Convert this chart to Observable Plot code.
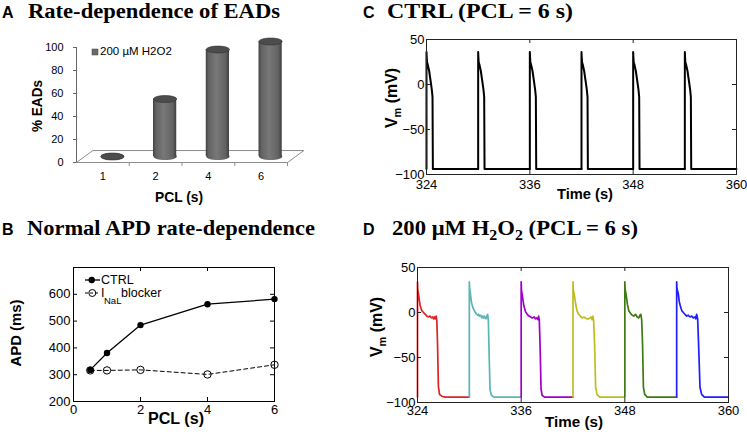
<!DOCTYPE html>
<html><head><meta charset="utf-8">
<script src="https://cdn.jsdelivr.net/npm/d3@7"></script>
<script src="https://cdn.jsdelivr.net/npm/@observablehq/plot@0.6"></script>
<style>
html,body{margin:0;padding:0;background:#fff;}
#fig{position:relative;width:747px;height:434px;overflow:hidden;background:#fff;}
#fig > .p{position:absolute;}
#fig svg{overflow:visible;}
#ov{position:absolute;left:0;top:0;pointer-events:none;}
.ttl{font-family:'Liberation Serif','Times New Roman',serif;font-weight:bold;font-size:20px;}
.let{font-family:'Liberation Sans',Arial,sans-serif;font-weight:bold;font-size:16px;}
.al{font-family:'Liberation Sans',Arial,sans-serif;font-weight:bold;}
.lg{font-family:'Liberation Sans',Arial,sans-serif;}
</style></head>
<body><div id="fig"></div>
<script>
// ---------- Panel A: % EADs vs PCL (200 uM H2O2) ----------
const eadPCL = ["1", "2", "4", "6"];
const eadPercent = [0, 50, 93, 100];
const eadTicks = [0, 20, 40, 60, 80, 100];

// ---------- Panel B: APD vs PCL ----------
const apdPCL = [0.5, 1, 2, 4, 6];
const apdCTRL = [318, 381, 485, 563, 582];
const apdCTRLerr = [4, 0, 0, 0, 9];
const apdBlocker = [316, 316, 318, 301, 337];
const apdYTicks = [200, 300, 400, 500, 600];
const apdXTicks = [0, 2, 4, 6];

// ---------- Panels C & D: membrane potential traces ----------
const beatOnsets = [324, 330, 336, 342, 348, 354];
const timeTicks = [324, 336, 348, 360];
const vmTicks = [-100, -50, 0, 50];
// CTRL action potential, [time after onset (s), Vm (mV)]
const ctrlAP = [[0,-94],[0,36],[0.03,30],[0.06,25],[0.15,22],[0.31,15],[0.46,5],[0.62,-6],[0.7,-14],[0.74,-94],[6,-94]];
// 200 uM H2O2 action potentials (one per beat)
const h2o2Beat1 = [[0,-94],[0,34],[0.03,26],[0.12,20],[0.3,8],[0.5,2],[0.7,0],[0.9,-2],[1.08,-4],[1.28,-5],[1.47,-4],[1.6,-6],[1.75,-5],[1.86,-7],[1.96,-5],[2.05,-7],[2.16,-4],[2.24,-9],[2.32,-35],[2.42,-82],[2.55,-91],[2.8,-93],[3.2,-94],[6,-94]];
const h2o2Beat2 = [[0,-94],[0,34],[0.03,27],[0.12,21],[0.25,11],[0.39,6],[0.58,2],[0.77,-1],[0.96,-3],[1.08,-2],[1.16,-4],[1.3,-3],[1.45,-6],[1.54,-4],[1.66,-6],[1.74,-4],[1.85,-6],[1.93,-7],[2.03,-4],[2.12,-2],[2.2,-9],[2.3,-50],[2.4,-86],[2.55,-92],[2.85,-94],[6,-94]];
const h2o2Beat3 = [[0,-94],[0,34],[0.03,25],[0.12,20],[0.3,8],[0.5,1],[0.7,-2],[0.9,-4],[1.1,-5],[1.3,-6],[1.5,-5],[1.65,-7],[1.8,-6],[1.92,-8],[2.02,-4],[2.1,-9],[2.2,-40],[2.3,-85],[2.42,-92],[2.7,-94],[6,-94]];
const h2o2Beat4 = [[0,-94],[0,34],[0.03,25],[0.15,20],[0.3,10],[0.46,2],[0.66,-2],[0.85,-4],[1.04,-6],[1.25,-5],[1.43,-6],[1.6,-7],[1.81,-7],[1.95,-6],[2.08,-5],[2.2,-8],[2.31,-4],[2.39,-9],[2.5,-35],[2.62,-83],[2.78,-91],[3.1,-94],[6,-94]];
const h2o2Beat5 = [[0,-94],[0,34],[0.03,26],[0.15,20],[0.3,9],[0.46,2],[0.66,-1],[0.85,-3],[1.04,-4],[1.23,-2],[1.43,-5],[1.62,-6],[1.75,-3],[1.85,-2],[1.95,-8],[2.05,-35],[2.15,-83],[2.3,-91],[2.6,-94],[6,-94]];
const h2o2Beat6 = [[0,-94],[0,34],[0.03,27],[0.19,21],[0.3,12],[0.46,6],[0.6,2],[0.77,0],[0.96,-2],[1.16,-4],[1.35,-3],[1.54,-5],[1.74,-4],[1.93,-6],[2.12,-5],[2.22,-7],[2.31,-2],[2.43,-7],[2.55,-39],[2.7,-83],[2.89,-91],[3.2,-94],[6,-94]];
const h2o2Beats = [h2o2Beat1, h2o2Beat2, h2o2Beat3, h2o2Beat4, h2o2Beat5, h2o2Beat6];
const h2o2Colors = ["#dc2424", "#5ab5b5", "#a000c8", "#bdbd20", "#3d7a12", "#1e1eff"];

// ---------- helpers ----------
const fig = document.getElementById("fig");
function place(node, left, top, w, h) {
  const d = document.createElement("div");
  d.className = "p";
  d.style.cssText = `left:${left}px;top:${top}px;width:${w}px;height:${h}px;`;
  d.appendChild(node);
  fig.appendChild(d);
}
const baseStyle = (fs) => ({fontFamily: "'Liberation Sans', Arial, sans-serif", fontSize: fs, color: "#000", background: "transparent", overflow: "visible"});
function boxTicks(xt, yt, iw, ih, len = 4, stroke = "#000") {
  return [
    Plot.tickY(yt, {y: d => d, insetRight: iw - len, stroke}),
    Plot.tickY(yt, {y: d => d, insetLeft: iw - len, stroke}),
    Plot.tickX(xt, {x: d => d, insetTop: ih - len, stroke}),
    Plot.tickX(xt, {x: d => d, insetBottom: ih - len, stroke})
  ];
}
const ellipseSymbol = {
  draw(ctx, size) {
    const rx = Math.sqrt(size / Math.PI), ry = rx * 0.3, k = 0.5523;
    ctx.moveTo(rx, 0);
    ctx.bezierCurveTo(rx, ry * k, rx * k, ry, 0, ry);
    ctx.bezierCurveTo(-rx * k, ry, -rx, ry * k, -rx, 0);
    ctx.bezierCurveTo(-rx, -ry * k, -rx * k, -ry, 0, -ry);
    ctx.bezierCurveTo(rx * k, -ry, rx, -ry * k, rx, 0);
    ctx.closePath();
  }
};
const cylDefs = () => {
  const g = document.createElementNS("http://www.w3.org/2000/svg", "defs");
  g.innerHTML = `<linearGradient id="cylGrad" x1="0" x2="1" y1="0" y2="0">
    <stop offset="0" stop-color="#404040"/><stop offset="0.12" stop-color="#626262"/>
    <stop offset="0.45" stop-color="#787878"/><stop offset="0.85" stop-color="#626262"/>
    <stop offset="1" stop-color="#3e3e3e"/></linearGradient>`;
  return g;
};
const intFmt = d => String(d);

// ---------- Panel A ----------
const aData = eadPCL.map((c, i) => ({cat: c, pos: i + 0.5, pct: eadPercent[i]}));
const nCat = eadPCL.length;
const depthX = 0.31, depthY = 10.4; // 3-D floor depth
const floorPts = [[0, 0], [nCat, 0], [nCat + depthX, depthY], [depthX, depthY], [0, 0]];
const barShift = {dx: 9.5, dy: -6};
const plotA = Plot.plot({
  width: 320, height: 150, marginLeft: 76, marginRight: 33, marginTop: 17, marginBottom: 18,
  x: {domain: [0, nCat], label: null}, y: {domain: [0, 100], label: null},
  style: baseStyle("11px"),
  marks: [
    cylDefs,
    Plot.line(floorPts, {x: d => d[0], y: d => d[1], stroke: "#8c8c8c", strokeWidth: 1}),
    Plot.ruleX([0], {y1: 0, y2: 100, stroke: "#666"}),
    Plot.axisY({ticks: eadTicks, tickFormat: intFmt, tickSize: 3, tickPadding: 10, stroke: "#666", label: null}),
    Plot.axisX({ticks: aData.map(d => d.pos), tickFormat: d => eadPCL[Math.floor(d)], tickSize: 0, tickPadding: 10, label: null}),
    Plot.axisX({ticks: d3.range(1, nCat + 1), tickFormat: () => "", tickSize: 4, stroke: "#8c8c8c", label: null}),
    Plot.dot(aData, {x: "pos", y: () => 0, ...barShift, r: 11.6, symbol: ellipseSymbol, fill: "url(#cylGrad)"}),
    Plot.rect(aData, {x1: d => d.pos - 0.22, x2: d => d.pos + 0.22, y1: () => 0, y2: "pct", ...barShift, fill: "url(#cylGrad)"}),
    Plot.dot(aData, {x: "pos", y: "pct", ...barShift, r: 11.6, symbol: ellipseSymbol, fill: "#4c4c4c", stroke: "#333", strokeWidth: 0.6})
  ]
});
place(plotA, 0, 30, 320, 150);

// ---------- Panel B ----------
const bCtrl = apdPCL.map((p, i) => ({pcl: p, apd: apdCTRL[i], err: apdCTRLerr[i]}));
const bBlk = apdPCL.map((p, i) => ({pcl: p, apd: apdBlocker[i]}));
const plotB = Plot.plot({
  width: 330, height: 175, marginLeft: 73, marginRight: 56, marginTop: 17, marginBottom: 24,
  x: {domain: [0, 6], label: null}, y: {domain: [200, 700], label: null},
  style: baseStyle("13px"),
  marks: [
    Plot.frame({stroke: "#000"}),
    ...boxTicks(apdXTicks, apdYTicks, 201, 134),
    Plot.axisY({ticks: apdYTicks, tickFormat: intFmt, tickSize: 0, tickPadding: 3, label: null}),
    Plot.axisX({ticks: apdXTicks, tickFormat: intFmt, tickSize: 0, tickPadding: 3, label: null}),
    Plot.line(bBlk, {x: "pcl", y: "apd", stroke: "#000", strokeWidth: 1, strokeDasharray: "4,3"}),
    Plot.dot(bBlk, {x: "pcl", y: "apd", r: 3.7, stroke: "#000", strokeWidth: 1, fill: "none"}),
    Plot.line(bCtrl, {x: "pcl", y: "apd", stroke: "#000", strokeWidth: 1.3}),
    Plot.ruleX(bCtrl.filter(d => d.err > 0), {x: "pcl", y1: d => d.apd - d.err, y2: d => d.apd + d.err, stroke: "#000", strokeWidth: 1.5}),
    Plot.dot(bCtrl, {x: "pcl", y: "apd", r: 3.2, fill: "#000"})
  ]
});
place(plotB, 0, 250, 330, 175);

// ---------- Panel C ----------
const cRows = beatOnsets.flatMap((t0, b) => ctrlAP.map(([dt, v]) => ({t: t0 + dt, v, beat: b})));
const plotC = Plot.plot({
  width: 387, height: 175, marginLeft: 66, marginRight: 11, marginTop: 19, marginBottom: 21,
  x: {domain: [324, 360], label: null}, y: {domain: [-100, 50], label: null},
  style: baseStyle("13px"),
  marks: [
    Plot.line(cRows, {x: "t", y: "v", z: "beat", stroke: "#000", strokeWidth: 2}),
    Plot.frame({stroke: "#222"}),
    ...boxTicks(timeTicks, vmTicks, 310, 135, 4, "#222"),
    Plot.axisY({ticks: vmTicks, tickSize: 0, tickPadding: 2, label: null}),
    Plot.axisX({ticks: timeTicks, tickFormat: intFmt, tickSize: 0, tickPadding: 5, label: null})
  ]
});
place(plotC, 360, 20, 387, 175);

// ---------- Panel D ----------
const dRows = beatOnsets.flatMap((t0, b) => h2o2Beats[b].map(([dt, v]) => ({t: t0 + dt, v, beat: b})));
const plotD = Plot.plot({
  width: 387, height: 180, marginLeft: 57, marginRight: 19, marginTop: 22, marginBottom: 23,
  x: {domain: [324, 360], label: null}, y: {domain: [-100, 50], label: null},
  color: {domain: d3.range(beatOnsets.length), range: h2o2Colors},
  style: baseStyle("13px"),
  marks: [
    Plot.line(dRows, {x: "t", y: "v", z: "beat", stroke: "beat", strokeWidth: 1.7}),
    Plot.frame({stroke: "#222"}),
    ...boxTicks(timeTicks, vmTicks, 311, 135, 4, "#222"),
    Plot.axisY({ticks: vmTicks, tickSize: 0, tickPadding: 2, label: null}),
    Plot.axisX({ticks: timeTicks, tickFormat: intFmt, tickSize: 0, tickPadding: 3, label: null})
  ]
});
place(plotD, 360, 245, 387, 180);

// ---------- titles, axis labels, legends ----------
const adj = 'lengthAdjust="spacingAndGlyphs"';
const ov = `
<svg id="ov" width="747" height="434" xmlns="http://www.w3.org/2000/svg">
 <text class="let" x="2" y="18">A</text>
 <text class="ttl" x="28" y="18" textLength="252" ${adj}>Rate-dependence of EADs</text>
 <text class="let" x="2" y="235">B</text>
 <text class="ttl" x="27" y="235" textLength="288" ${adj}>Normal APD rate-dependence</text>
 <text class="let" x="363" y="18">C</text>
 <text class="ttl" x="387" y="18" textLength="186" ${adj}>CTRL (PCL = 6 s)</text>
 <text class="let" x="363" y="235">D</text>
 <text class="ttl" x="392" y="235" textLength="246" ${adj}>200 μM H<tspan dy="5" font-size="14">2</tspan><tspan dy="-5">O</tspan><tspan dy="5" font-size="14">2</tspan><tspan dy="-5"> (PCL = 6 s)</tspan></text>

 <text class="al" font-size="14" text-anchor="middle" textLength="52" ${adj} transform="translate(42,106) rotate(-90)">% EADs</text>
 <text class="al" font-size="14" text-anchor="middle" textLength="48" ${adj} x="179" y="202">PCL (s)</text>
 <rect x="92" y="49" width="6" height="6" fill="#6a6a6a" stroke="#444" stroke-width="0.5"/>
 <text class="lg" font-size="11.5" x="100" y="55">200 µM H2O2</text>

 <text class="al" font-size="15" text-anchor="middle" textLength="67" ${adj} transform="translate(21,333) rotate(-90)">APD (ms)</text>
 <text class="al" font-size="16" text-anchor="middle" textLength="56" ${adj} x="176" y="424">PCL (s)</text>
 <line x1="85" x2="100" y1="280" y2="280" stroke="#000" stroke-width="1.3"/>
 <circle cx="91.7" cy="280" r="3.2" fill="#000"/>
 <text class="lg" font-size="12.5" x="101" y="284">CTRL</text>
 <line x1="85" x2="100" y1="293" y2="293" stroke="#000" stroke-width="1" stroke-dasharray="3,2"/>
 <circle cx="92.3" cy="293" r="3.5" fill="none" stroke="#000"/>
 <text class="lg" font-size="12.5" x="101" y="297">I</text>
 <text class="lg" font-size="9.5" x="104" y="304">NaL</text>
 <text class="lg" font-size="12.5" x="121" y="297">blocker</text>

 <text class="al" font-size="16" text-anchor="middle" textLength="60" ${adj} transform="translate(397,98) rotate(-90)">V<tspan dy="4" font-size="11">m</tspan><tspan dy="-4"> (mV)</tspan></text>
 <text class="al" font-size="15" text-anchor="middle" textLength="56" ${adj} x="585" y="199">Time (s)</text>
 <text class="al" font-size="16" text-anchor="middle" textLength="60" ${adj} transform="translate(382,327) rotate(-90)">V<tspan dy="4" font-size="11">m</tspan><tspan dy="-4"> (mV)</tspan></text>
 <text class="al" font-size="15" text-anchor="middle" textLength="58" ${adj} x="574" y="427">Time (s)</text>
</svg>`;
fig.insertAdjacentHTML("beforeend", ov);
</script></body></html>
